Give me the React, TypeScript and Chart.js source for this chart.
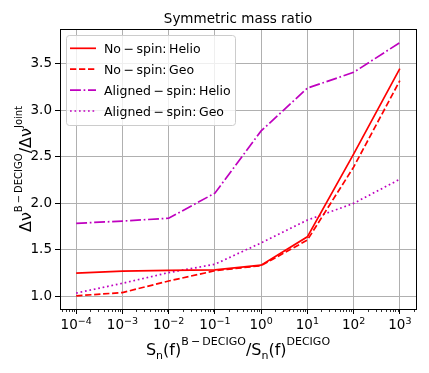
import React, { useEffect, useRef } from "react";
import { Chart, registerables } from "chart.js";

Chart.register(...registerables);

// ---- data ----
const ratios = [1e-4, 1e-3, 1e-2, 1e-1, 1e0, 1e1, 1e2, 1e3];
const noSpinHelio = [1.25, 1.27, 1.28, 1.285, 1.335, 1.64, 2.53, 3.45];
const noSpinGeo = [1.005, 1.04, 1.165, 1.275, 1.33, 1.605, 2.39, 3.32];
const alignedHelio = [1.785, 1.81, 1.84, 2.11, 2.78, 3.24, 3.41, 3.73];
const alignedGeo = [1.035, 1.14, 1.255, 1.345, 1.575, 1.82, 2.0, 2.26];
const yTicks = [1.0, 1.5, 2.0, 2.5, 3.0, 3.5];
const seriesLabels = [
  "No\u2009\u2212\u2009spin:\u2009Helio",
  "No\u2009\u2212\u2009spin:\u2009Geo",
  "Aligned\u2009\u2212\u2009spin:\u2009Helio",
  "Aligned\u2009\u2212\u2009spin:\u2009Geo",
];
const titleText = "Symmetric mass ratio";

const FONT = '"DejaVu Sans"';
const RED = "#ff0000";
const MAG = "#bf00bf";
const LW = 1.7;

type Part = { t: string; size: number; dy: number };

function drawRich(ctx: CanvasRenderingContext2D, parts: Part[], x: number, y: number) {
  let total = 0;
  const widths = parts.map((p) => {
    ctx.font = `${p.size}px ${FONT}`;
    const w = ctx.measureText(p.t).width;
    total += w;
    return w;
  });
  let cx = x - total / 2;
  ctx.textAlign = "left";
  ctx.textBaseline = "alphabetic";
  parts.forEach((p, i) => {
    ctx.font = `${p.size}px ${FONT}`;
    ctx.fillText(p.t, cx, y + p.dy);
    cx += widths[i];
  });
}

const decor = {
  id: "decor",
  afterDraw(chart: any) {
    const ctx: CanvasRenderingContext2D = chart.ctx;
    const a = chart.chartArea;
    const xs = chart.scales.x;
    ctx.save();
    ctx.setLineDash([]);
    // frame
    ctx.strokeStyle = "#000";
    ctx.lineWidth = 1;
    ctx.strokeRect(Math.floor(a.left) + 0.5, Math.floor(a.top) + 0.5, Math.round(a.right - a.left), Math.round(a.bottom - a.top));
    // minor ticks
    ctx.lineWidth = 0.8;
    for (let k = -5; k <= 3; k++) {
      for (let m = 2; m <= 9; m++) {
        const v = m * Math.pow(10, k);
        if (v < xs.min || v > xs.max) continue;
        const px = Math.round(xs.getPixelForValue(v)) + 0.5;
        ctx.beginPath();
        ctx.moveTo(px, a.bottom);
        ctx.lineTo(px, a.bottom + 3);
        ctx.stroke();
      }
    }
    ctx.fillStyle = "#000";
    // x tick labels
    ratios.forEach((v) => {
      const e = Math.round(Math.log10(v));
      const s = e < 0 ? "\u2212" + -e : String(e);
      const px = xs.getPixelForValue(v);
      drawRich(ctx, [
        { t: "10", size: 13.5, dy: 0 },
        { t: s, size: 9.5, dy: -5.5 },
      ], px, 329);
    });
    // x label
    drawRich(ctx, [
      { t: "S", size: 16, dy: 0 },
      { t: "n", size: 11, dy: 3.5 },
      { t: "(f)", size: 16, dy: 0 },
      { t: "B\u2009\u2212\u2009DECIGO", size: 11, dy: -10 },
      { t: "/S", size: 16, dy: 0 },
      { t: "n", size: 11, dy: 3.5 },
      { t: "(f)", size: 16, dy: 0 },
      { t: "DECIGO", size: 11, dy: -10 },
    ], (a.left + a.right) / 2, 355);
    // y label
    ctx.save();
    ctx.translate(31, (a.top + a.bottom) / 2);
    ctx.rotate(-Math.PI / 2);
    drawRich(ctx, [
      { t: "\u0394\u03bd", size: 16, dy: 0 },
      { t: "B\u2009\u2212\u2009DECIGO", size: 10, dy: -8.7 },
      { t: "/\u0394\u03bd", size: 16, dy: 0 },
      { t: "Joint", size: 10, dy: -8.7 },
    ], 0, 0);
    ctx.restore();
    // title
    ctx.font = `13.5px ${FONT}`;
    ctx.textAlign = "center";
    ctx.textBaseline = "alphabetic";
    ctx.fillText(titleText, (a.left + a.right) / 2, 22.5);
    // legend
    const lx = 66, ly = 35, lw = 169, lh = 90;
    ctx.beginPath();
    (ctx as any).roundRect(lx + 0.5, ly + 0.5, lw, lh, 3);
    ctx.fillStyle = "rgba(255,255,255,0.8)";
    ctx.fill();
    ctx.strokeStyle = "#cccccc";
    ctx.lineWidth = 1;
    ctx.stroke();
    chart.data.datasets.forEach((ds: any, i: number) => {
      const ry = 48.3 + i * 20.9;
      ctx.strokeStyle = ds.borderColor;
      ctx.lineWidth = ds.borderWidth;
      ctx.setLineDash(ds.borderDash || []);
      ctx.beginPath();
      ctx.moveTo(70, ry);
      ctx.lineTo(96, ry);
      ctx.stroke();
      ctx.setLineDash([]);
      ctx.fillStyle = "#000";
      ctx.font = `12.5px ${FONT}`;
      ctx.textAlign = "left";
      ctx.textBaseline = "alphabetic";
      ctx.fillText(ds.label, 104, ry + 4.7);
    });
    ctx.restore();
  },
};

export default function App() {
  const ref = useRef<HTMLCanvasElement | null>(null);
  useEffect(() => {
    document.body.style.margin = "0";
    const canvas = ref.current;
    if (!canvas) return;
    const mk = (ys: number[]) => ratios.map((x, i) => ({ x, y: ys[i] }));
    const chart = new Chart(canvas, {
      type: "line",
      data: {
        datasets: [
          { label: seriesLabels[0], data: mk(noSpinHelio), borderColor: RED, borderWidth: LW, borderDash: [], pointRadius: 0, fill: false, tension: 0 },
          { label: seriesLabels[1], data: mk(noSpinGeo), borderColor: RED, borderWidth: LW, borderDash: [6.3, 2.7], pointRadius: 0, fill: false, tension: 0 },
          { label: seriesLabels[2], data: mk(alignedHelio), borderColor: MAG, borderWidth: LW, borderDash: [10.9, 2.7, 1.7, 2.7], pointRadius: 0, fill: false, tension: 0 },
          { label: seriesLabels[3], data: mk(alignedGeo), borderColor: MAG, borderWidth: LW, borderDash: [1.7, 2.8], pointRadius: 0, fill: false, tension: 0 },
        ],
      },
      options: {
        animation: false,
        responsive: false,
        devicePixelRatio: 1,
        layout: { padding: { left: 0, top: 29, right: 13, bottom: 0 } },
        plugins: { legend: { display: false }, title: { display: false }, tooltip: { enabled: false } },
        scales: {
          x: {
            type: "logarithmic",
            min: Math.pow(10, -4.35),
            max: Math.pow(10, 3.35),
            afterBuildTicks: (s: any) => {
              s.ticks = ratios.map((v) => ({ value: v }));
            },
            afterFit: (s: any) => {
              s.height = 64;
            },
            ticks: { display: false },
            grid: { color: "#b0b0b0", lineWidth: 1, drawTicks: true, tickLength: 5, tickColor: "#000" },
            border: { display: false },
          },
          y: {
            type: "linear",
            min: 0.8635,
            max: 3.8765,
            afterBuildTicks: (s: any) => {
              s.ticks = yTicks.map((v) => ({ value: v }));
            },
            afterFit: (s: any) => {
              s.width = 60;
            },
            ticks: {
              color: "#000",
              font: { family: "DejaVu Sans", size: 13.5 },
              padding: 3,
              callback: (v: any) => Number(v).toFixed(1),
            },
            grid: { color: "#b0b0b0", lineWidth: 1, drawTicks: true, tickLength: 5, tickColor: "#000" },
            border: { display: false },
          },
        },
      },
      plugins: [decor],
    } as any);
    return () => chart.destroy();
  }, []);
  return (
    <div style={{ position: "absolute", left: 0, top: 0, width: 429, height: 373, background: "#fff" }}>
      <canvas ref={ref} width={429} height={373} style={{ display: "block" }} />
    </div>
  );
}
